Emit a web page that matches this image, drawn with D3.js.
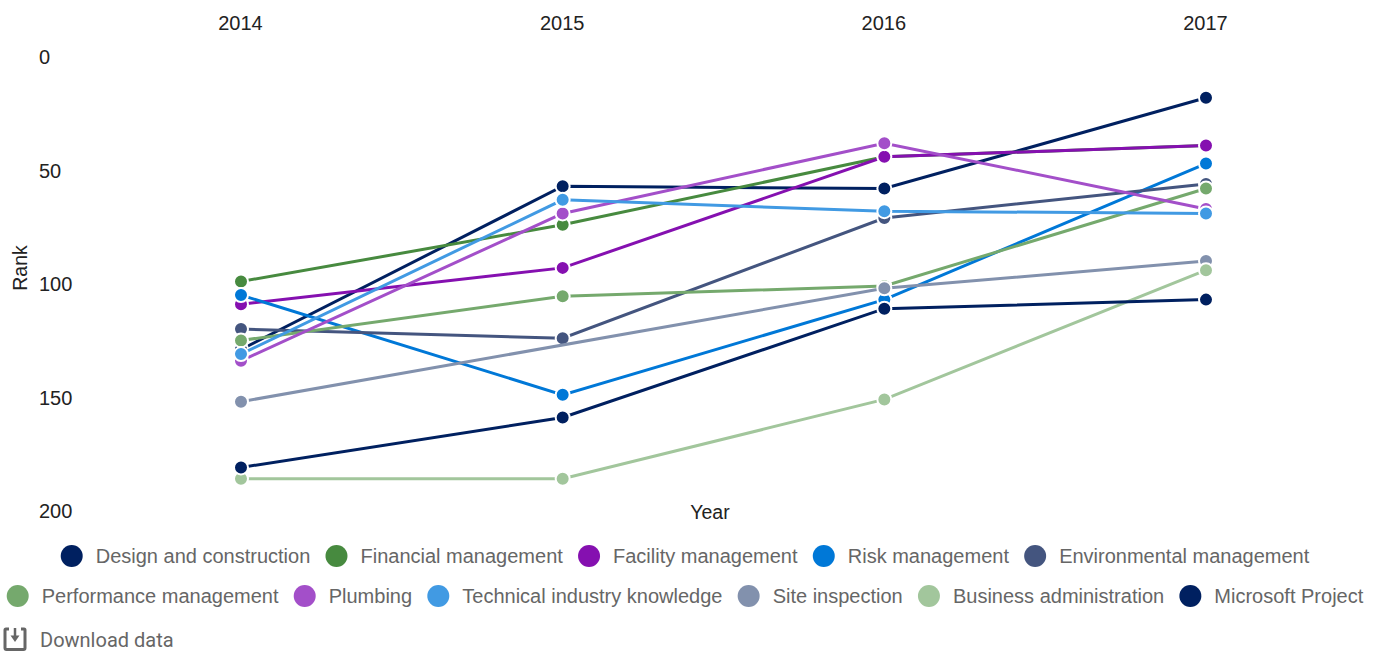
<!DOCTYPE html>
<html><head><meta charset="utf-8">
<script src="https://cdn.jsdelivr.net/npm/d3@7/dist/d3.min.js"></script>
<style>html,body{margin:0;padding:0;background:#fff}svg{display:block}</style>
</head><body><svg id="c" width="1386" height="655"></svg>
<script>
const years = [2014, 2015, 2016, 2017];
const rankTicks = [0, 50, 100, 150, 200];
const names = ["Design and construction","Financial management","Facility management","Risk management","Environmental management","Performance management","Plumbing","Technical industry knowledge","Site inspection","Business administration","Microsoft Project"];
const colors = ["#002060","#478a3f","#8510b0","#0078d7","#44557f","#75a96d","#a34fc9","#419ae3","#8291ad","#a2c69c","#002060"];
const design = [129, 57, 58, 18];
const financial = [99, 74, 44, 39];
const facility = [109, 93, 44, 39];
const risk = [105, 149, 107, 47];
const environmental = [120, 124, 71, 56];
const performance_ = [125, 105.5, 101, 58];
const plumbing = [134, 69, 38, 67];
const technical = [131, 63, 68, 69];
const site = [152, null, 102, 90];
const business = [186, 186, 151, 94];
const microsoft = [181, 159, 111, 107];
const seriesValues = [design, financial, facility, risk, environmental, performance_, plumbing, technical, site, business, microsoft];
const legendRows = [5, 6];

const font = "Roboto, Arial, sans-serif";
const axisFont = "'Liberation Sans', Arial, sans-serif";
const svg = d3.select("#c");
const x = d3.scalePoint().domain(years).range([241, 1206]);
const y = d3.scaleLinear().domain([0, 200]).range([57, 510.5]);

const xAxis = svg.append("g").attr("transform", "translate(-1,22.5)")
  .call(d3.axisTop(x).tickSize(0).tickPadding(0));
const yAxis = svg.append("g").attr("transform", "translate(39,0.5)")
  .call(d3.axisLeft(y).tickValues(rankTicks).tickSize(0).tickPadding(0));
xAxis.select(".domain").remove(); yAxis.select(".domain").remove();
xAxis.selectAll("text").attr("dy", "0.35em");
yAxis.selectAll("text").attr("text-anchor", "start").attr("x", 0);
svg.selectAll("g .tick text").style("font-family", axisFont).style("font-size", "20px").style("fill", "#222");

svg.append("text").attr("x", 710).attr("y", 512).attr("dy", "0.35em").attr("text-anchor", "middle")
  .style("font-family", axisFont).style("font-size", "19.5px").style("fill", "#222").text("Year");
svg.append("text").attr("transform", "translate(20,268) rotate(-90)").attr("dy", "0.35em").attr("text-anchor", "middle")
  .style("font-family", axisFont).style("font-size", "19.5px").style("fill", "#222").text("Rank");

const line = d3.line().x(d => x(d.year)).y(d => y(d.v));
seriesValues.forEach((vals, i) => {
  const pts = vals.map((v, k) => ({ year: years[k], v })).filter(d => d.v !== null);
  const g = svg.append("g");
  g.append("path").attr("d", line(pts)).attr("fill", "none").attr("stroke", colors[i]).attr("stroke-width", 3);
  g.selectAll("circle").data(pts).join("circle")
    .attr("cx", d => x(d.year)).attr("cy", d => y(d.v)).attr("r", 7)
    .attr("fill", colors[i]).attr("stroke", "#fff").attr("stroke-width", 2);
});

const legend = svg.append("g");
let start = 0;
legendRows.forEach((n, r) => {
  const row = legend.append("g");
  let cur = 0;
  names.slice(start, start + n).forEach((nm, j) => {
    const idx = start + j;
    row.append("circle").attr("cx", cur + 11).attr("cy", 0).attr("r", 11).attr("fill", colors[idx]);
    const t = row.append("text").attr("x", cur + 35).attr("dy", "0.35em")
      .style("font-family", axisFont).style("font-size", "20px").style("fill", "#666").text(nm);
    cur += 35 + t.node().getComputedTextLength() + 15.2;
  });
  cur -= 15.2;
  row.attr("transform", `translate(${685 - cur / 2},${556 + r * 40})`);
  start += n;
});

const dl = svg.append("g").attr("transform", "translate(4,628)");
dl.append("path").attr("d", "M5 1H2Q1 1 1 2V20Q1 21.5 2.5 21.5H19.5Q21 21.5 21 20V2Q21 1 20 1H17").attr("fill", "none").attr("stroke", "#666").attr("stroke-width", 3);
dl.append("path").attr("d", "M11 0V9").attr("stroke", "#666").attr("stroke-width", 2.5);
dl.append("path").attr("d", "M6.5 7.5H15.5L11 14Z").attr("fill", "#666");
svg.append("text").attr("x", 40).attr("y", 640).attr("dy", "0.35em")
  .style("font-family", font).style("font-size", "20px").style("fill", "#666").text("Download data");
</script></body></html>
